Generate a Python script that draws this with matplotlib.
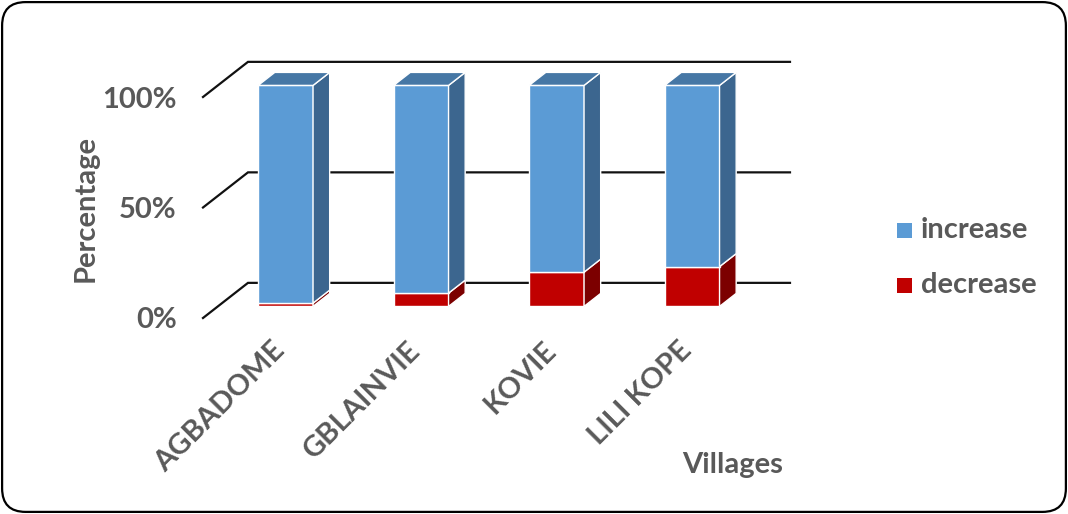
"""Stacked pseudo-3D column chart: share of households reporting an increase
or decrease, per village."""

import matplotlib

matplotlib.use("Agg")
import matplotlib.pyplot as plt
from matplotlib.patches import FancyBboxPatch, Polygon, Rectangle

villages = ["AGBADOME", "GBLAINVIE", "KOVIE", "LILI KOPE"]
decrease = [1.5, 6.0, 15.5, 18.0]
increase = [100 - v for v in decrease]
series_names = ["increase", "decrease"]
y_ticks = [0, 50, 100]
y_tick_labels = ["0%", "50%", "100%"]

TEXT = "#595959"
FONT = "Lato"
FS = 21
BLUE = ("#5b9bd5", "#3c668f", "#4677a5")   # front, side, top
RED = ("#c00000", "#7c0000", "#a00000")

# oblique depth: full depth shift in data units
DX, DY = 0.332, 15.9
D0, D1 = 0.33, 0.70          # bar occupies this slice of the depth
BAR_W = 0.405

W, H = 1068, 514
fig = plt.figure(figsize=(W / 100, H / 100), dpi=100)

# axes spans the plot region (front-left corner of the floor at 203,318 px)
px_left, px_right, px_bottom, px_top = 203, 790, 318, 62
ax = fig.add_axes([px_left / W, 1 - px_bottom / H,
                   (px_right - px_left) / W, (px_bottom - px_top) / H])
ax.set_xlim(-0.5, -0.5 + (px_right - px_left) / 135.5)
ax.set_ylim(0, (px_bottom - px_top) / 2.21)
for s in ax.spines.values():
    s.set_visible(False)
ax.set_xticks([])
ax.set_yticks(y_ticks, y_tick_labels)
ax.tick_params(axis="y", length=0, pad=19)
for lab in ax.get_yticklabels():
    lab.set_fontfamily(FONT)
    lab.set_fontweight("bold")
    lab.set_fontsize(FS)
    lab.set_color(TEXT)
ax.patch.set_visible(False)

# back-wall gridlines and their diagonal run to the front edge
x0, x1 = -0.5, len(villages) - 0.5
for v in y_ticks:
    ax.plot([x0, x0 + DX, x1 + DX], [v, v + DY, v + DY],
            color="#111111", lw=1.6, zorder=1, clip_on=False,
            solid_joinstyle="miter")


def shift(x, y, d):
    return (x + d * DX, y + d * DY)


def draw_box(xc, y_lo, y_hi, colors, top):
    front, side, top_c = colors
    xl, xr = xc - BAR_W / 2, xc + BAR_W / 2
    kw = dict(ec="white", lw=1.0, zorder=3, clip_on=False)
    fl = shift(xl, y_lo, D0)
    ax.add_patch(Rectangle(fl, BAR_W, y_hi - y_lo, fc=front, **kw))
    ax.add_patch(Polygon([shift(xr, y_lo, D0), shift(xr, y_lo, D1),
                          shift(xr, y_hi, D1), shift(xr, y_hi, D0)],
                         fc=side, **kw))
    if top:
        ax.add_patch(Polygon([shift(xl, y_hi, D0), shift(xl, y_hi, D1),
                              shift(xr, y_hi, D1), shift(xr, y_hi, D0)],
                             fc=top_c, **kw))


for i in range(len(villages)):
    draw_box(i, 0, decrease[i], RED, top=False)
    draw_box(i, decrease[i], decrease[i] + increase[i], BLUE, top=True)
    ax.annotate(villages[i], xy=(i, 0), xytext=(10, -28),
                textcoords="offset pixels", rotation=45,
                ha="right", va="center", rotation_mode="anchor",
                fontfamily=FONT, fontweight="bold", fontsize=FS,
                color=TEXT, annotation_clip=False)

fig.text(86 / W, 1 - 208 / H, "Percentage", rotation=90, ha="center",
         va="center", fontfamily=FONT, fontweight="bold", fontsize=FS,
         color=TEXT)
fig.text(733 / W, 1 - 465 / H, "Villages", ha="center", va="center",
         fontfamily=FONT, fontweight="bold", fontsize=FS, color=TEXT)

# legend
for k, (name, col) in enumerate(zip(series_names, (BLUE[0], RED[0]))):
    yc = 1 - (230.5 + 54.5 * k) / H
    fig.patches.append(Rectangle((897 / W, yc - 7.5 / H), 15 / W, 15 / H,
                                 fc=col, ec="none",
                                 transform=fig.transFigure))
    fig.text(921 / W, yc, name, ha="left", va="center", fontfamily=FONT,
             fontweight="bold", fontsize=FS, color=TEXT)

# rounded chart border
fig.patches.append(FancyBboxPatch((24 / W, 24 / H), (W - 48) / W, (H - 48) / H,
                                  boxstyle="round,pad=0.0205,rounding_size=0.022",
                                  fc="none", ec="black", lw=1.6,
                                  transform=fig.transFigure,
                                  mutation_aspect=W / H))

fig.savefig("out.png", dpi=100)
